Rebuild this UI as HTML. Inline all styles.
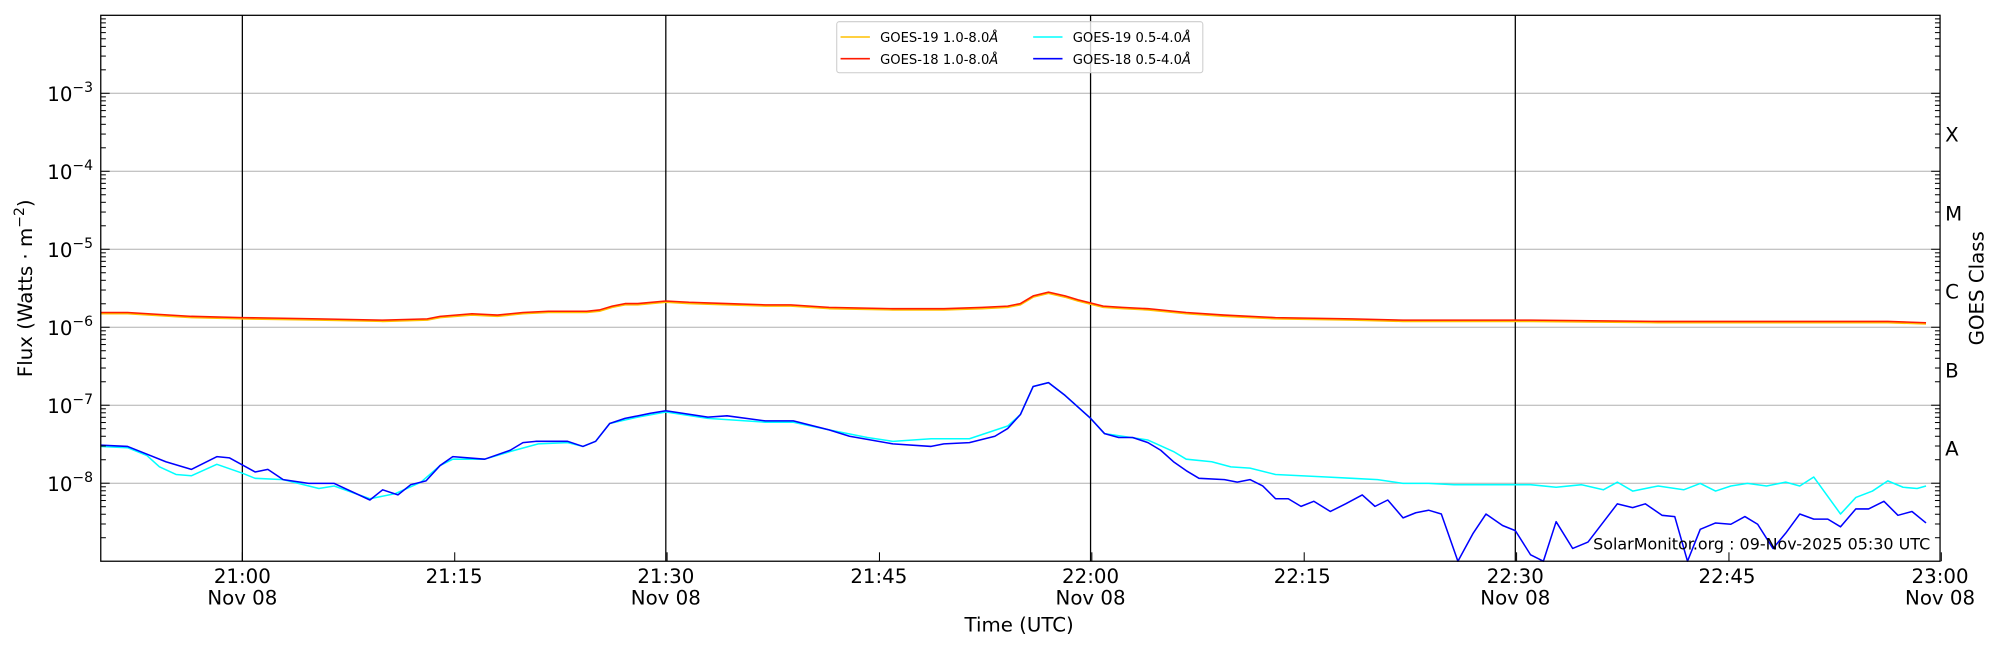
<!DOCTYPE html>
<html><head><meta charset="utf-8"><style>
html,body{margin:0;padding:0;background:#fff;}
svg{display:block;font-family:"DejaVu Sans","Liberation Sans",sans-serif;}
</style></head><body>
<svg id="s" width="2000" height="650" viewBox="0 0 1568 509.6" preserveAspectRatio="none" xmlns="http://www.w3.org/2000/svg">
<rect width="1568" height="509.6" fill="#fff"/>
<g id="grid" stroke="#b0b0b0" stroke-width="0.8"></g>
<g stroke="#000" stroke-width="1">
<line x1="190" y1="12" x2="190" y2="440"/><line x1="522" y1="12" x2="522" y2="440"/>
<line x1="855" y1="12" x2="855" y2="440"/><line x1="1188" y1="12" x2="1188" y2="440"/>
</g>
<g fill="none" stroke-width="1.2" stroke-linejoin="round">
<polyline stroke="#ffc000" points="79,246 100,246 150,249 190,250 250,251 300,252 335,251 345,249 370,247 390,248 410,246 430,245 460,245 470,244 480,241 490,239 500,239 522,237 540,238 570,239 600,240 620,240 650,242 700,243 740,243 770,242 790,241 800,239 810,233 822,230 835,233 845,236 865,241 880,242 900,243 930,246 960,248 1000,250 1060,251 1100,252 1150,252 1200,252 1300,253 1400,253 1480,253 1510,254"/>
<polyline stroke="#ff1a00" points="79,245 100,245 150,248 190,249 250,250 300,251 335,250 345,248 370,246 390,247 410,245 430,244 460,244 470,243 480,240 490,238 500,238 522,236 540,237 570,238 600,239 620,239 650,241 700,242 740,242 770,241 790,240 800,238 810,232 822,229 835,232 845,235 865,240 880,241 900,242 930,245 960,247 1000,249 1060,250 1100,251 1150,251 1200,251 1300,252 1400,252 1480,252 1510,253"/>
<polyline stroke="#00ffff" points="79,350 100,351 115,357 125,366 138,372 150,373 170,364 190,371 200,375 222,376 250,383 262,381 290,391 310,387 330,378 345,365 355,360 380,360 400,354 422,348 445,347 457,350 467,346 478,332 500,327 522,323 555,328 600,331 622,331 650,337 680,343 700,346 730,344 760,344 790,334 800,325 810,303 822,300 835,310 855,328 866,340 880,342 900,345 920,354 930,360 950,362 965,366 980,367 1000,372 1020,373 1040,374 1060,375 1080,376 1100,379 1120,379 1140,380 1160,380 1180,380 1200,380 1220,382 1240,380 1257,384 1268,378 1280,385 1300,381 1320,384 1333,379 1345,385 1357,381 1370,379 1385,381 1400,378 1411,381 1422,374 1443,403 1455,390 1468,385 1480,377 1492,382 1503,383 1510,381"/>
<polyline stroke="#0000ff" points="79,349 100,350 115,356 130,362 150,368 170,358 180,359 200,370 210,368 222,376 242,379 262,379 290,392 300,384 312,388 322,380 334,377 345,365 355,358 380,360 400,353 410,347 420,346 445,346 457,350 467,346 478,332 490,328 500,326 510,324 522,322 535,324 555,327 570,326 600,330 622,330 650,337 666,342 700,348 730,350 740,348 760,347 780,342 790,336 800,325 810,303 822,300 835,310 855,328 866,340 877,343 888,343 900,347 910,353 920,362 930,369 940,375 960,376 970,378 980,376 990,381 1000,391 1010,391 1020,397 1030,393 1043,401 1055,395 1068,388 1078,397 1088,392 1100,406 1110,402 1120,400 1130,403 1143,440 1155,418 1165,403 1178,412 1188,416 1200,435 1210,440 1220,409 1233,430 1245,425 1258,408 1268,395 1280,398 1290,395 1303,404 1313,405 1323,440 1333,415 1345,410 1357,411 1368,405 1378,411 1390,430 1400,418 1411,403 1422,407 1433,407 1443,413 1455,399 1465,399 1477,393 1488,404 1499,401 1510,410"/>
</g>
<g id="ticks" stroke="#000" stroke-width="0.8"></g>
<rect x="79" y="12" width="1442" height="428" fill="none" stroke="#000" stroke-width="1"/>
<g id="ylab" font-size="15.5" text-anchor="end"></g>
<g font-size="15.5" text-anchor="middle">
<text x="190" y="457">21:00</text><text x="190" y="474">Nov 08</text>
<text x="356" y="457">21:15</text>
<text x="522" y="457">21:30</text><text x="522" y="474">Nov 08</text>
<text x="689" y="457">21:45</text>
<text x="855" y="457">22:00</text><text x="855" y="474">Nov 08</text>
<text x="1021" y="457">22:15</text>
<text x="1188" y="457">22:30</text><text x="1188" y="474">Nov 08</text>
<text x="1354" y="457">22:45</text>
<text x="1521" y="457">23:00</text><text x="1521" y="474">Nov 08</text>
<text x="799" y="495">Time (UTC)</text>
</g>
<text transform="translate(25,226) rotate(-90)" font-size="15.5" text-anchor="middle">Flux (Watts · m<tspan dy="-6" font-size="11">−2</tspan><tspan dy="6">)</tspan></text>
<text transform="translate(1555,226) rotate(-90)" font-size="15.5" text-anchor="middle">GOES Class</text>
<g font-size="15.5">
<text x="1525" y="111">X</text><text x="1525" y="173">M</text><text x="1525" y="234">C</text><text x="1525" y="296">B</text><text x="1525" y="357">A</text>
</g>
<text x="1249" y="431" font-size="12.5">SolarMonitor.org : 09-Nov-2025 05:30 UTC</text>
<rect x="656" y="17" width="287" height="40" rx="2" fill="#fff" fill-opacity="0.8" stroke="#ccc" stroke-width="0.8"/>
<g stroke-width="1.2">
<line x1="659" y1="29" x2="682" y2="29" stroke="#ffc000"/>
<line x1="659" y1="46" x2="682" y2="46" stroke="#ff1a00"/>
<line x1="810" y1="29" x2="833" y2="29" stroke="#00ffff"/>
<line x1="810" y1="46" x2="833" y2="46" stroke="#0000ff"/>
</g>
<g font-size="10.3">
<text x="690" y="33">GOES-19 1.0-8.0<tspan font-style="italic">Å</tspan></text>
<text x="690" y="50">GOES-18 1.0-8.0<tspan font-style="italic">Å</tspan></text>
<text x="841" y="33">GOES-19 0.5-4.0<tspan font-style="italic">Å</tspan></text>
<text x="841" y="50">GOES-18 0.5-4.0<tspan font-style="italic">Å</tspan></text>
</g>
</svg>
<script>
var NS="http://www.w3.org/2000/svg";
function Y(l){return 12+61.14*(-2-l);}
function ln(g,x1,y1,x2,y2){var e=document.createElementNS(NS,"line");e.setAttribute("x1",x1);e.setAttribute("y1",y1);e.setAttribute("x2",x2);e.setAttribute("y2",y2);g.appendChild(e);}
var grid=document.getElementById("grid"),tk=document.getElementById("ticks"),yl=document.getElementById("ylab");
for(var d=-9;d<=-2;d++){
  var y=Y(d);
  if(d>=-8&&d<=-3){ln(grid,79,y,1521,y);
    var t=document.createElementNS(NS,"text");t.setAttribute("x","73");t.setAttribute("y",y+6);
    t.innerHTML='10<tspan dy="-7" font-size="11">−'+(-d)+'</tspan>';yl.appendChild(t);}
  if(d>-9&&d<-2){ln(tk,79,y,86,y);ln(tk,1521,y,1514,y);}
  if(d<-2)for(var m=2;m<=9;m++){var yy=Y(d+Math.log10(m));ln(tk,79,yy,83,yy);ln(tk,1521,yy,1517,yy);}
}
for(var i=0;i<=8;i++){var x=190+i*166.5;ln(tk,x,440,x,433);}
</script>
</body></html>
